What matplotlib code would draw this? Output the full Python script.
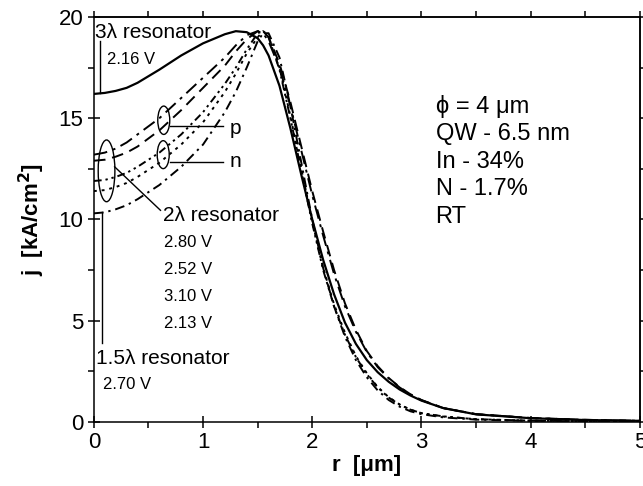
import matplotlib
matplotlib.use('Agg')
import matplotlib.pyplot as plt
from matplotlib.patches import Ellipse
from matplotlib.ticker import MultipleLocator

plt.rcParams['font.family'] = ['Liberation Sans', 'DejaVu Sans']

# radial position r [um]
r = [0, 0.1, 0.2, 0.3, 0.4, 0.6, 0.8, 1.0, 1.2, 1.3, 1.4, 1.5, 1.55, 1.6, 1.7, 1.8, 1.9,
     2.0, 2.1, 2.2, 2.3, 2.4, 2.5, 2.6, 2.7, 2.8, 2.9, 3.0, 3.2, 3.5, 4.0, 4.5, 5.0]

# current density j [kA/cm^2]
j_3l = [16.2, 16.25, 16.35, 16.5, 16.75, 17.4, 18.1, 18.7, 19.15, 19.3, 19.25, 18.95, 18.6, 18.1, 16.6, 14.5, 12.2,
        10.0, 8.0, 6.3, 4.9, 3.85, 3.05, 2.45, 1.98, 1.6, 1.3, 1.05, 0.68, 0.37, 0.18, 0.09, 0.05]
j_p1 = [13.2, 13.3, 13.5, 13.8, 14.2, 15.0, 16.0, 17.0, 18.0, 18.6, 19.1, 19.3, 19.2, 18.8, 17.5, 15.6, 13.4,
        11.2, 9.2, 7.3, 5.7, 4.45, 3.45, 2.7, 2.15, 1.7, 1.35, 1.07, 0.68, 0.38, 0.19, 0.1, 0.05]
j_p2 = [12.9, 12.95, 13.1, 13.3, 13.6, 14.4, 15.4, 16.5, 17.6, 18.3, 18.9, 19.3, 19.3, 19.0, 17.7, 15.8, 13.6,
        11.4, 9.4, 7.5, 5.85, 4.55, 3.5, 2.75, 2.17, 1.72, 1.36, 1.08, 0.68, 0.38, 0.19, 0.1, 0.05]
j_n1 = [11.9, 11.95, 12.1, 12.3, 12.6, 13.3, 14.2, 15.3, 16.7, 17.5, 18.4, 19.2, 19.3, 19.0, 17.4, 15.0, 12.4,
        9.8, 7.5, 5.7, 4.3, 3.2, 2.35, 1.7, 1.2, 0.85, 0.6, 0.43, 0.27, 0.13, 0.06, 0.03, 0.02]
j_n2 = [11.4, 11.45, 11.6, 11.8, 12.1, 12.8, 13.7, 14.8, 16.3, 17.2, 18.2, 19.0, 19.3, 19.1, 17.5, 15.1, 12.5,
        9.9, 7.6, 5.8, 4.4, 3.25, 2.4, 1.72, 1.22, 0.86, 0.6, 0.43, 0.26, 0.13, 0.06, 0.03, 0.02]
j_15l = [10.3, 10.35, 10.5, 10.7, 11.0, 11.7, 12.6, 13.7, 15.3, 16.3, 17.5, 18.8, 19.2, 19.2, 18.0, 15.6, 12.8,
         10.0, 7.6, 5.7, 4.2, 3.05, 2.2, 1.55, 1.08, 0.75, 0.52, 0.38, 0.22, 0.11, 0.05, 0.03, 0.02]

volts_2l = ['2.80 V', '2.52 V', '3.10 V', '2.13 V']
info = ['ϕ = 4 μm', 'QW - 6.5 nm', 'In - 34%', 'N - 1.7%', 'RT']

fig = plt.figure(figsize=(6.43, 4.86), dpi=100)
ax = fig.add_axes([0.146, 0.132, 0.849, 0.833])

lw = 1.4
ax.plot(r, j_3l, color='black', lw=1.6, ls='-')
ax.plot(r, j_p1, color='black', lw=lw, ls=(0, (7, 3, 1.5, 3)))
ax.plot(r, j_p2, color='black', lw=lw, ls=(0, (6, 3.5)))
ax.plot(r, j_n1, color='black', lw=lw, ls=(0, (4, 2, 1.2, 2, 1.2, 2)))
ax.plot(r, j_n2, color='black', lw=lw, ls=(0, (1.5, 2.5)))
ax.plot(r, j_15l, color='black', lw=lw, ls=(0, (5, 2.5, 1.2, 2.5)))

ax.set_xlim(0, 5)
ax.set_ylim(0, 20)
ax.xaxis.set_major_locator(MultipleLocator(1))
ax.xaxis.set_minor_locator(MultipleLocator(0.5))
ax.yaxis.set_major_locator(MultipleLocator(5))
ax.yaxis.set_minor_locator(MultipleLocator(2.5))
ax.tick_params(which='major', direction='inout', length=9, width=1.1, labelsize=16, pad=3)
ax.tick_params(which='minor', direction='out', length=4, width=1.1)
for s in ax.spines.values():
    s.set_linewidth(1.1)

# mirrored ticks on top and right
top = ax.secondary_xaxis('top')
top.xaxis.set_major_locator(MultipleLocator(1))
top.xaxis.set_minor_locator(MultipleLocator(0.5))
top.tick_params(which='both', direction='out', length=4, width=1.1, labeltop=False)
right = ax.secondary_yaxis('right')
right.yaxis.set_major_locator(MultipleLocator(5))
right.yaxis.set_minor_locator(MultipleLocator(2.5))
right.tick_params(which='both', direction='out', length=4, width=1.1, labelright=False)
top.spines['top'].set_linewidth(1.1)
right.spines['right'].set_linewidth(1.1)

ax.set_xlabel('r  [μm]', fontsize=16, fontweight='bold', labelpad=1)
ax.set_ylabel('j  [kA/cm$^\\mathbf{2}$]', fontsize=16, fontweight='bold', labelpad=8)

# 3 lambda
ax.text(0.01, 19.25, '3λ resonator', fontsize=15, ha='left', va='center')
ax.text(0.12, 17.9, '2.16 V', fontsize=12, ha='left', va='center')
ax.plot([0.06, 0.06], [18.8, 16.25], color='black', lw=1.0)

# p / n groups
ax.add_patch(Ellipse((0.64, 14.9), 0.11, 1.4, fill=False, lw=1.0, color='black'))
ax.add_patch(Ellipse((0.635, 13.2), 0.11, 1.38, fill=False, lw=1.0, color='black'))
ax.plot([0.70, 1.18], [14.6, 14.6], color='black', lw=1.0)
ax.plot([0.70, 1.18], [12.85, 12.85], color='black', lw=1.0)
ax.text(1.24, 14.5, 'p', fontsize=15, ha='left', va='center')
ax.text(1.24, 12.85, 'n', fontsize=15, ha='left', va='center')

# 2 lambda
ax.add_patch(Ellipse((0.116, 12.4), 0.153, 3.05, fill=False, lw=1.0, color='black'))
ax.plot([0.19, 0.61], [12.6, 10.45], color='black', lw=1.0)
ax.text(0.63, 10.2, '2λ resonator', fontsize=15, ha='left', va='center')
for k, v in enumerate(volts_2l):
    ax.text(0.645, 8.85 - 1.33 * k, v, fontsize=12, ha='left', va='center')

# 1.5 lambda
ax.plot([0.07, 0.07], [10.35, 3.9], color='black', lw=1.0)
ax.text(0.02, 3.15, '1.5λ resonator', fontsize=15, ha='left', va='center')
ax.text(0.08, 1.83, '2.70 V', fontsize=12, ha='left', va='center')

for k, t in enumerate(info):
    ax.text(3.13, 15.57 - 1.36 * k, t, fontsize=17, ha='left', va='center')

fig.savefig('out.png', dpi=100)
